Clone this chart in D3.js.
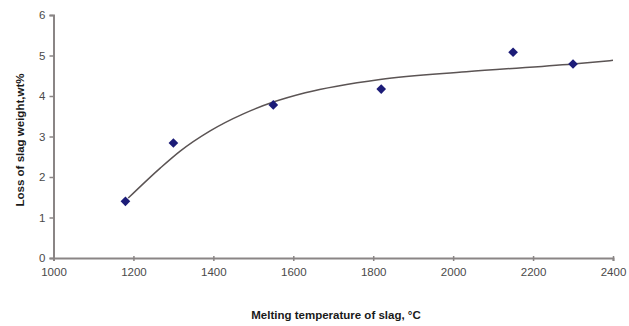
<!DOCTYPE html>
<html>
<head>
<meta charset="utf-8">
<script src="https://cdn.jsdelivr.net/npm/d3@7"></script>
<style>
  body { margin: 0; background: #fff; }
  svg { display: block; font-family: "Liberation Sans", Arial, sans-serif; }
</style>
</head>
<body>
<div class="chart"></div>
<script>
// measured points
const tempC = [1180, 1300, 1550, 1820, 2150, 2300];
const lossWt = [1.4, 2.84, 3.78, 4.17, 5.08, 4.79];

// trend curve
const trendX = [1187, 1267, 1317, 1392, 1475, 1550, 1630, 1817, 2033, 2300, 2400];
const trendY = [1.48, 2.22, 2.64, 3.14, 3.56, 3.85, 4.08, 4.41, 4.6, 4.79, 4.88];

const xTicks = [1000, 1200, 1400, 1600, 1800, 2000, 2200, 2400];
const yTicks = [0, 1, 2, 3, 4, 5, 6];

const w = 629, h = 326;
const margin = { left: 53.5, right: 16, top: 15, bottom: 68 };

const svg = d3.select('.chart').append('svg')
  .attr('width', w)
  .attr('height', h);

const x = d3.scaleLinear().domain([1000, 2400]).range([margin.left, w - margin.right]);
const y = d3.scaleLinear().domain([0, 6]).range([h - margin.bottom, margin.top]);

const axisColor = '#8a8585';
const textColor = '#4a4a4a';

// x axis
const gx = svg.append('g')
  .attr('transform', `translate(0,${y(0)})`)
  .call(d3.axisBottom(x).tickValues(xTicks).tickSize(3).tickPadding(7).tickFormat(d3.format('d')));
gx.selectAll('.tick line').attr('y1', -2).attr('y2', 3);

// y axis
const gy = svg.append('g')
  .attr('transform', `translate(${x(1000)},0)`)
  .call(d3.axisLeft(y).tickValues(yTicks).tickSize(4).tickPadding(4).tickFormat(d3.format('d')));

[gx, gy].forEach(g => {
  g.select('.domain').attr('stroke', axisColor).attr('stroke-width', 2);
  g.selectAll('.tick line').attr('stroke', axisColor).attr('stroke-width', 1.5);
  g.selectAll('.tick text')
    .attr('fill', textColor)
    .style('font-size', '11.5px');
});

// trend line
const line = d3.line()
  .x((d, i) => x(trendX[i]))
  .y(d => y(d))
  .curve(d3.curveMonotoneX);

svg.append('path')
  .attr('d', line(trendY))
  .attr('fill', 'none')
  .attr('stroke', '#5b5454')
  .attr('stroke-width', 1.5);

// diamonds
svg.selectAll('.dot')
  .data(lossWt)
  .enter().append('path')
  .attr('class', 'dot')
  .attr('d', d3.symbol().type(d3.symbolDiamond2).size(60))
  .attr('transform', (d, i) => `translate(${x(tempC[i])},${y(d)})`)
  .attr('fill', '#1c1c78');

// axis titles
svg.append('text')
  .attr('x', 336)
  .attr('y', 319)
  .attr('text-anchor', 'middle')
  .attr('font-weight', 'bold')
  .attr('font-size', '11.5px')
  .attr('fill', '#1a1a1a')
  .text('Melting temperature of slag, °C');

svg.append('text')
  .attr('transform', 'translate(24,140) rotate(-90)')
  .attr('text-anchor', 'middle')
  .attr('font-weight', 'bold')
  .attr('font-size', '11.5px')
  .attr('fill', '#1a1a1a')
  .text('Loss of slag weight,wt%');
</script>
</body>
</html>
